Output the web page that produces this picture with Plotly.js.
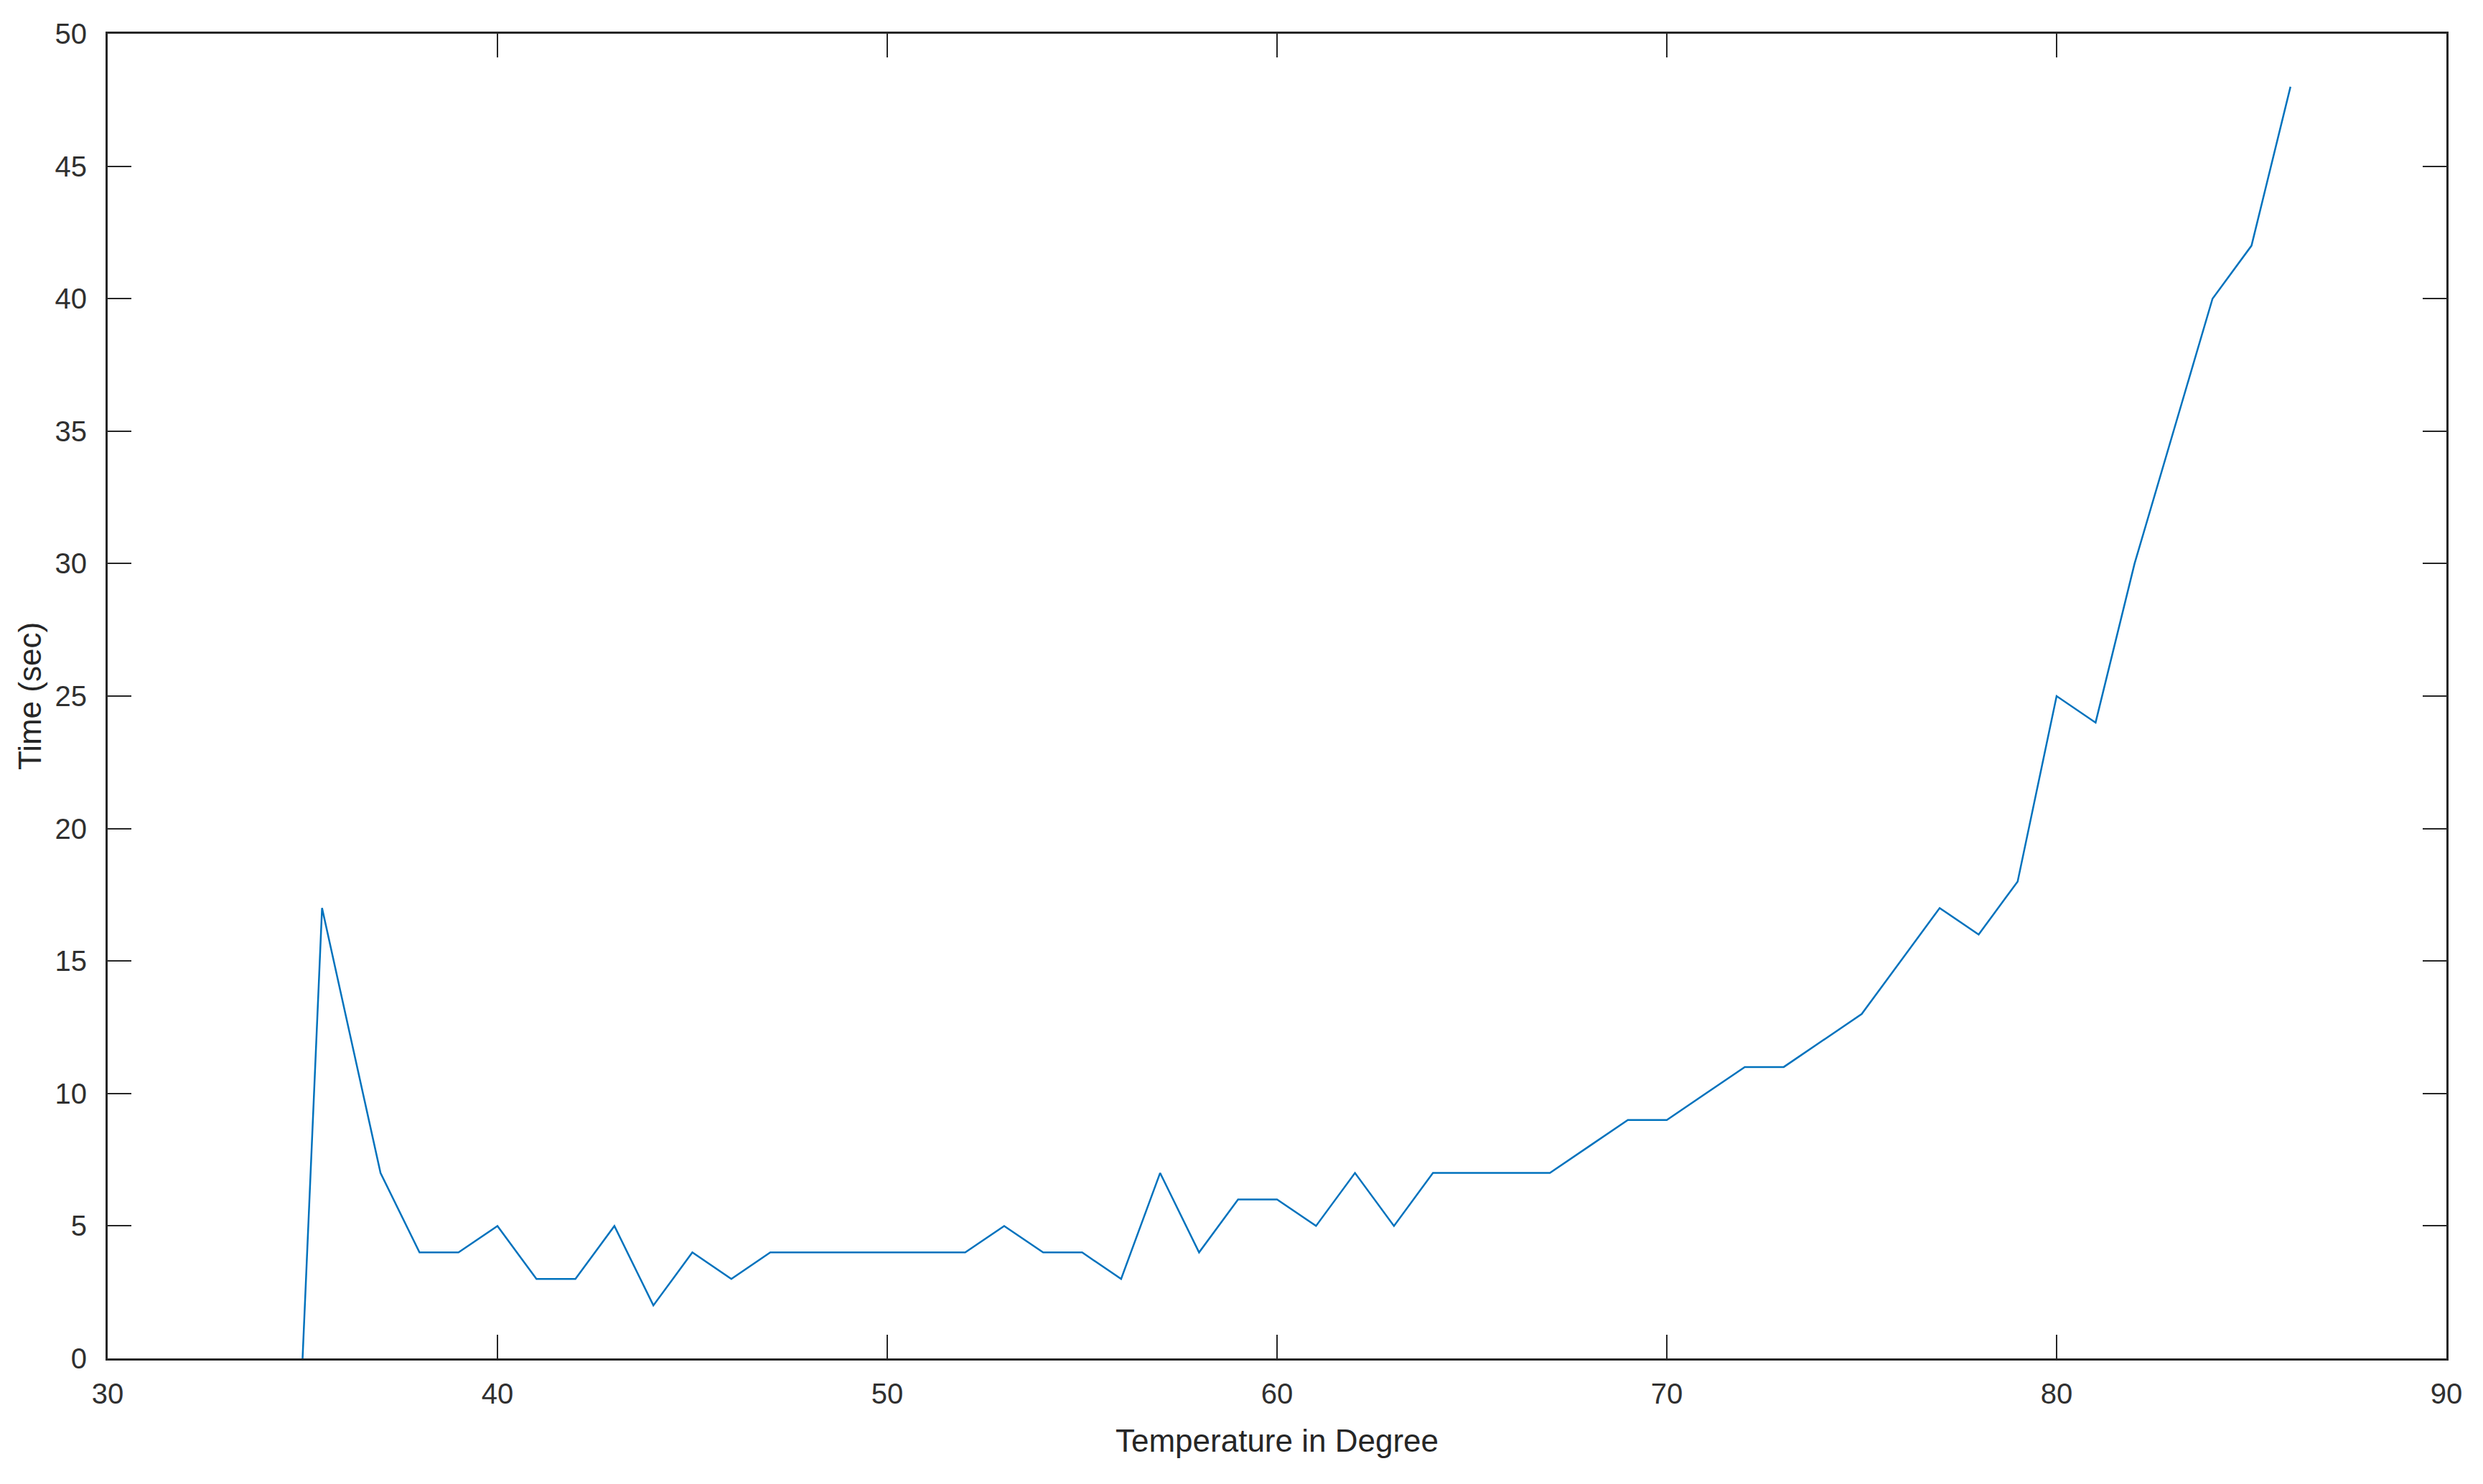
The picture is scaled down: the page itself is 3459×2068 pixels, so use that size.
<!DOCTYPE html>
<html>
<head>
<meta charset="utf-8">
<script src="https://cdn.plot.ly/plotly-3.0.1.min.js"></script>
<style>
  html, body { margin: 0; padding: 0; background: #fff; }
  #graph { width: 3459px; height: 2068px; }
</style>
</head>
<body>
<div id="graph"></div>
<script>
// temperatura (grados) y tiempo (seg)
const temperature = [35, 35.5, 37, 38, 39, 40, 41, 42, 43, 44, 45, 46, 47, 48, 49, 50, 51, 52,
  53, 54, 55, 56, 57, 58, 59, 60, 61, 62, 63, 64, 65, 66, 67, 68, 69, 70, 71, 72, 73, 74,
  75, 76, 77, 78, 79, 80, 81, 82, 83, 84, 85, 86];
const timeSec = [0, 17, 7, 4, 4, 5, 3, 3, 5, 2, 4, 3, 4, 4, 4, 4, 4, 4,
  5, 4, 4, 3, 7, 4, 6, 6, 5, 7, 5, 7, 7, 7, 7, 8, 9, 9, 10, 11, 11, 12,
  13, 15, 17, 16, 18, 25, 24, 30, 35, 40, 42, 48];

const xTicks = [30, 40, 50, 60, 70, 80, 90];
const yTicks = [0, 5, 10, 15, 20, 25, 30, 35, 40, 45, 50];

const trace = {
  x: temperature,
  y: timeSec,
  mode: 'lines',
  type: 'scatter',
  line: { color: '#0072BD', width: 2.5 },
  hoverinfo: 'x+y'
};

const axisStyle = {
  showgrid: false,
  zeroline: false,
  showline: true,
  linecolor: '#262626',
  linewidth: 3,
  mirror: 'ticks',
  ticks: 'inside',
  ticklen: 33,
  tickwidth: 2,
  tickcolor: '#262626',
  tickfont: { family: 'Liberation Sans, Arial, sans-serif', size: 40, color: '#303030' }
};

const layout = {
  width: 3459,
  height: 2068,
  paper_bgcolor: '#ffffff',
  plot_bgcolor: '#ffffff',
  showlegend: false,
  margin: { l: 150, r: 51, t: 47, b: 175 },
  xaxis: Object.assign({}, axisStyle, {
    range: [30, 90],
    tickvals: xTicks,
    ticktext: xTicks.map(String),
    ticklabelstandoff: 12,
    title: { text: 'Temperature in Degree', standoff: 30,
      font: { family: 'Liberation Sans, Arial, sans-serif', size: 44, color: '#262626' } }
  }),
  yaxis: Object.assign({}, axisStyle, {
    range: [0, 50],
    tickvals: yTicks,
    ticktext: yTicks.map(String),
    ticklabelstandoff: 18,
    title: { text: 'Time (sec)', standoff: 6,
      font: { family: 'Liberation Sans, Arial, sans-serif', size: 44, color: '#262626' } }
  })
};

Plotly.newPlot('graph', [trace], layout, { displayModeBar: false, staticPlot: true });
</script>
</body>
</html>
